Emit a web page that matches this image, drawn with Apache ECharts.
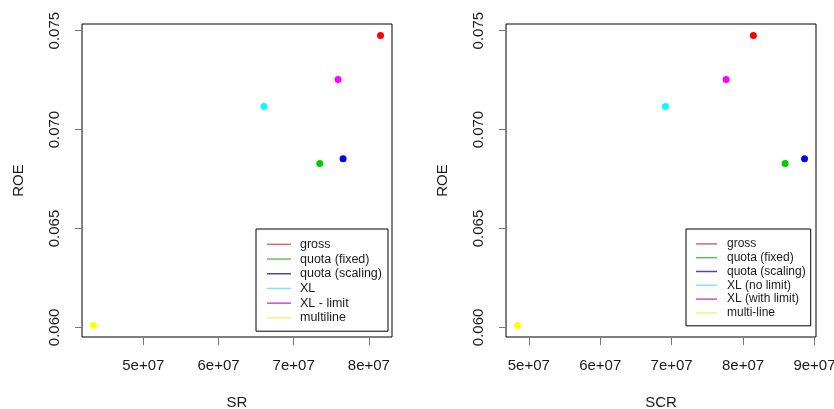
<!DOCTYPE html>
<html>
<head>
<meta charset="utf-8">
<script src="https://cdn.jsdelivr.net/npm/echarts@6/dist/echarts.min.js"></script>
<style>
html,body{margin:0;padding:0;background:#fff;}
#chart{width:834px;height:409px;}
</style>
</head>
<body>
<div id="chart"></div>
<script>
// ---- data ----
const namesLeft = ['gross', 'quota (fixed)', 'quota (scaling)', 'XL', 'XL - limit', 'multiline'];
const namesRight = ['gross', 'quota (fixed)', 'quota (scaling)', 'XL (no limit)', 'XL (with limit)', 'multi-line'];
const roe = [0.07475, 0.06828, 0.06852, 0.07116, 0.07253, 0.0601];
const sr = [8.155e7, 7.347e7, 7.657e7, 6.604e7, 7.590e7, 4.337e7];
const scr = [8.145e7, 8.589e7, 8.861e7, 6.912e7, 7.763e7, 4.841e7];
const xTicksLeft = [5e7, 6e7, 7e7, 8e7];
const xTicksRight = [5e7, 6e7, 7e7, 8e7, 9e7];
const yTicks = [0.060, 0.065, 0.070, 0.075];
const pointColors = ['#FF0000', '#00CD00', '#0000FF', '#00FFFF', '#FF00FF', '#FFFF00'];
const legendColors = ['#d46a6a', '#5cc45c', '#4a4aa8', '#80e6e6', '#c850c8', '#f2f27a'];

// ---- helpers ----
function rRange(arr) {
  const mn = Math.min(...arr), mx = Math.max(...arr), d = (mx - mn) * 0.04;
  return [mn - d, mx + d];
}
function sci(v) {
  const e = Math.floor(Math.log10(v) + 1e-9);
  const m = Math.round(v / Math.pow(10, e));
  return m + 'e+' + String(e).padStart(2, '0');
}
const FONT = 'Liberation Sans, Arial, sans-serif';
const TXT = '#1a1a1a';

function xAxisDef(idx, vals, ticks, name) {
  const r = rRange(vals);
  return {
    type: 'value', gridIndex: idx, min: r[0], max: r[1],
    name: name, nameLocation: 'middle', nameGap: 58,
    nameTextStyle: {fontFamily: FONT, fontSize: 15, color: TXT},
    axisLine: {show: false},
    splitLine: {show: false},
    axisTick: {show: true, length: 8, customValues: ticks, lineStyle: {color: '#777', width: 1}},
    axisLabel: {customValues: ticks, formatter: v => sci(v), fontFamily: FONT, fontSize: 15, color: TXT, margin: 21}
  };
}
function yAxisDef(idx, ticks) {
  const r = rRange(roe);
  return {
    type: 'value', gridIndex: idx, min: r[0], max: r[1],
    name: 'ROE', nameLocation: 'middle', nameGap: 56,
    nameTextStyle: {fontFamily: FONT, fontSize: 15, color: TXT},
    axisLine: {show: false},
    splitLine: {show: false},
    axisTick: {show: true, length: 7, customValues: ticks, lineStyle: {color: '#777', width: 1}},
    axisLabel: {customValues: ticks, rotate: 90, formatter: v => v.toFixed(3), fontFamily: FONT, fontSize: 15, color: TXT, margin: 20}
  };
}
function legendDef(names, opts) {
  return {
    orient: 'vertical', left: opts.left, top: opts.top,
    padding: opts.padding, itemGap: 0,
    itemWidth: opts.iconW, itemHeight: 1.5,
    borderColor: '#000', borderWidth: 1, borderRadius: 0, backgroundColor: '#fff',
    selectedMode: false,
    textStyle: {fontFamily: FONT, fontSize: opts.fs, color: TXT, lineHeight: opts.lh, padding: [0, 0, 0, opts.tgap]},
    data: names.map((n, i) => ({name: n, icon: 'rect', itemStyle: {color: legendColors[i], borderWidth: 0}}))
  };
}

const series = [];
namesLeft.forEach((n, i) => series.push({
  type: 'scatter', name: n, xAxisIndex: 0, yAxisIndex: 0, symbol: 'circle', symbolSize: 7,
  itemStyle: {color: pointColors[i], opacity: 1}, data: [[sr[i], roe[i]]], z: 2
}));
namesRight.forEach((n, i) => series.push({
  type: 'scatter', name: n, xAxisIndex: 1, yAxisIndex: 1, symbol: 'circle', symbolSize: 7,
  itemStyle: {color: pointColors[i], opacity: 1}, data: [[scr[i], roe[i]]], z: 2
}));

const option = {
  animation: false,
  backgroundColor: '#fff',
  grid: [
    {left: 82, top: 24, width: 310, height: 313, show: true, borderColor: '#000', borderWidth: 1, backgroundColor: 'transparent', containLabel: false, outerBoundsMode: 'none'},
    {left: 506, top: 24, width: 310, height: 313, show: true, borderColor: '#000', borderWidth: 1, backgroundColor: 'transparent', containLabel: false, outerBoundsMode: 'none'}
  ],
  xAxis: [xAxisDef(0, sr, xTicksLeft, 'SR'), xAxisDef(1, scr, xTicksRight, 'SCR')],
  yAxis: [yAxisDef(0, yTicks), yAxisDef(1, yTicks)],
  legend: [
    legendDef(namesLeft, {left: 256, top: 229, padding: [8, 6, 6, 11], iconW: 24, fs: 12.5, lh: 14.7, tgap: 4}),
    legendDef(namesRight, {left: 686, top: 229, padding: [8, 5, 6, 10], iconW: 21, fs: 12, lh: 13.8, tgap: 5})
  ],
  series: series
};
const chart = echarts.init(document.getElementById('chart'), null, {renderer: 'canvas'});
chart.setOption(option);
</script>
</body>
</html>
